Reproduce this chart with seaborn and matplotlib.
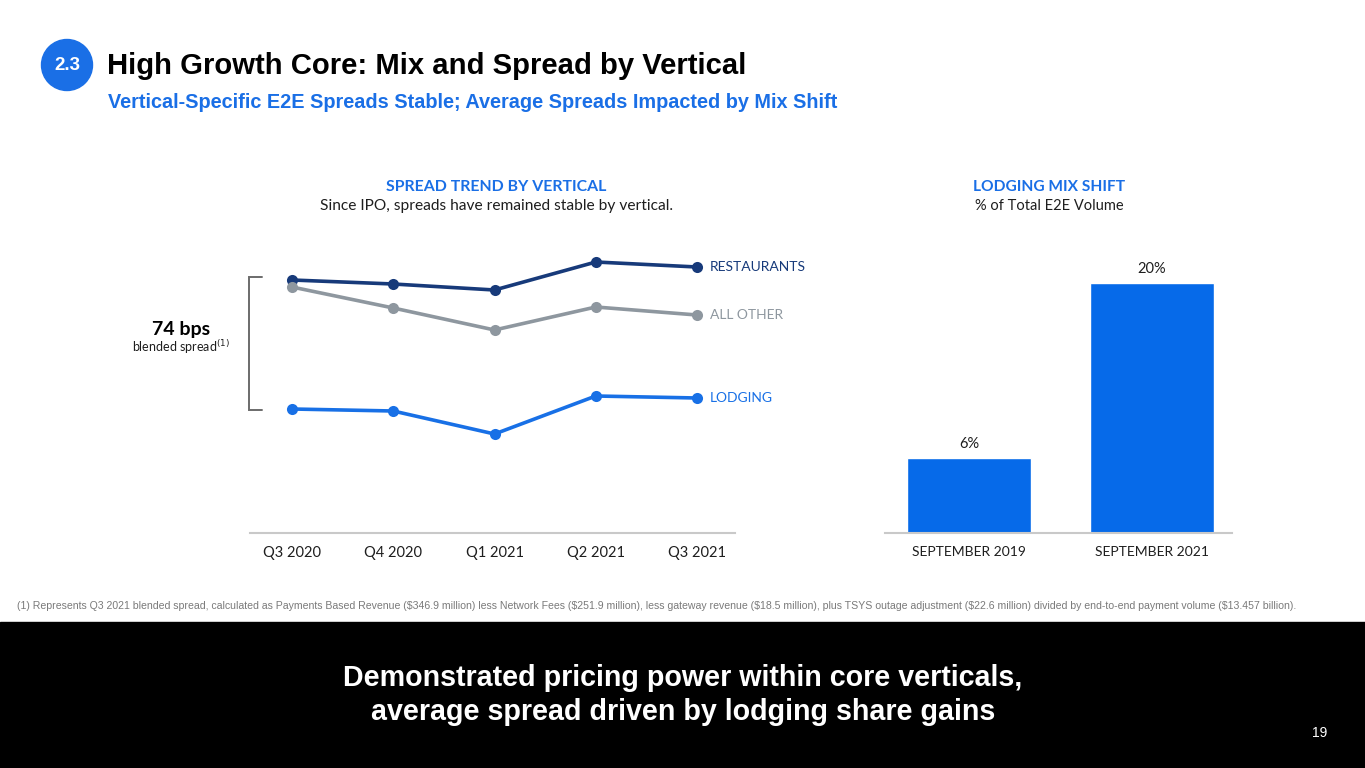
import matplotlib
matplotlib.use("Agg")
import matplotlib.pyplot as plt
import seaborn as sns
import pandas as pd
from matplotlib.patches import Circle, Rectangle

# ---------------- data ----------------
quarters = ["Q3 2020", "Q4 2020", "Q1 2021", "Q2 2021", "Q3 2021"]
# relative spread level (unitless)
restaurants = [253, 249, 243, 271, 266]
all_other = [246, 225, 203, 226, 218]
lodging = [124, 122, 99, 137, 135]
verticals = ["RESTAURANTS", "ALL OTHER", "LODGING"]

mix_periods = ["SEPTEMBER 2019", "SEPTEMBER 2021"]
mix_values = [6, 20]
mix_labels = ["6%", "20%"]

# ---------------- style ----------------
sns.set_theme(style="white")
plt.rcParams["font.family"] = ["Lato", "DejaVu Sans"]

NAVY = "#173a7a"
GRAY = "#8e979f"
BLUE = "#1870e6"
BAR = "#066ae9"
AXIS = "#c9c9c9"
TXT = "#1e1e1e"
ARIAL = ["Liberation Sans", "DejaVu Sans"]

W, H = 1365, 768
fig = plt.figure(figsize=(W / 100, H / 100), dpi=100)
fig.patch.set_facecolor("white")


def rect(l, t, r, b):
    return [l / W, 1 - b / H, (r - l) / W, (b - t) / H]


# overlay axes in pixel coordinates for decorations
ov = fig.add_axes([0, 0, 1, 1])
ov.set_xlim(0, W)
ov.set_ylim(H, 0)
ov.axis("off")
ov.set_zorder(-1)

# header
ov.add_patch(Circle((67, 65), 25.5, color="#1a6fe6"))
ov.text(67, 66, "2.3", color="white", ha="center", va="center", fontsize=13.5,
        fontweight="bold", family=ARIAL)
ov.text(107, 66, "High Growth Core: Mix and Spread by Vertical", color="black",
        ha="left", va="center", fontsize=21.1, fontweight="bold", family=ARIAL)
ov.text(108, 102, "Vertical-Specific E2E Spreads Stable; Average Spreads Impacted by Mix Shift",
        color="#1a6fe6", ha="left", va="center", fontsize=14.3, fontweight="bold",
        family=ARIAL)

# section titles
ov.text(496, 187, "SPREAD TREND BY VERTICAL", color="#1a6fe6", ha="center", va="center",
        fontsize=11.4, fontweight="bold")
ov.text(496, 206, "Since IPO, spreads have remained stable by vertical.", color=TXT,
        ha="center", va="center", fontsize=11.2)
ov.text(1049, 187, "LODGING MIX SHIFT", color="#1a6fe6", ha="center", va="center",
        fontsize=11.2, fontweight="bold")
ov.text(1049, 206, "% of Total E2E Volume", color=TXT, ha="center", va="center",
        fontsize=10.5)

# bracket and blended spread
ov.plot([262, 249, 249, 262], [277, 277, 410, 410], color="#6b6b6b", lw=1.4,
        solid_joinstyle="miter")
ov.text(181, 329, "74 bps", color="black", ha="center", va="center", fontsize=14,
        fontweight="bold")
ov.text(181, 347, "blended spread$^{(1)}$", color=TXT, ha="center", va="center",
        fontsize=9)

# footnote
ov.text(17, 606,
        "(1) Represents Q3 2021 blended spread, calculated as Payments Based Revenue (\\$346.9 million) "
        "less Network Fees (\\$251.9 million), less gateway revenue (\\$18.5 million), plus TSYS outage "
        "adjustment (\\$22.6 million) divided by end-to-end payment volume (\\$13.457 billion).",
        color="#7a7a7a", ha="left", va="center", fontsize=7.54, family=ARIAL)

# bottom band
ov.add_patch(Rectangle((0, 622), W, H - 622, color="black"))
ov.text(683, 678, "Demonstrated pricing power within core verticals,", color="white",
        ha="center", va="center", fontsize=20.6, fontweight="bold", family=ARIAL)
ov.text(683, 712, "average spread driven by lodging share gains", color="white",
        ha="center", va="center", fontsize=20.6, fontweight="bold", family=ARIAL)
ov.text(1320, 733, "19", color="white", ha="center", va="center", fontsize=10,
        family=ARIAL)

# ---------------- line chart ----------------
df = pd.DataFrame({
    "quarter": quarters * 3,
    "value": restaurants + all_other + lodging,
    "vertical": [verticals[0]] * 5 + [verticals[1]] * 5 + [verticals[2]] * 5,
})
pal = {verticals[0]: NAVY, verticals[1]: GRAY, verticals[2]: BLUE}

ax1 = fig.add_axes(rect(250, 230, 735, 533))
sns.lineplot(data=df, x="quarter", y="value", hue="vertical", palette=pal,
             marker="o", markersize=8, markeredgewidth=0, linewidth=2.6,
             sort=False, legend=False, ax=ax1)
ax1.set_xlim(-0.415, 4.375)
ax1.set_ylim(0, 303)
ax1.set_xlabel("")
ax1.set_ylabel("")
ax1.set_yticks([])
for s in ["top", "right", "left"]:
    ax1.spines[s].set_visible(False)
ax1.spines["bottom"].set_color(AXIS)
ax1.spines["bottom"].set_linewidth(1.5)
ax1.tick_params(axis="x", length=0, pad=9, labelsize=10.5, labelcolor=TXT)
ax1.patch.set_alpha(0)

ends = [restaurants[-1], all_other[-1], lodging[-1]]
for name, yv in zip(verticals, ends):
    ax1.annotate(name, xy=(4, yv), xytext=(9.5, 0), textcoords="offset points",
                 ha="left", va="center", color=pal[name], fontsize=10)

# ---------------- bar chart ----------------
bdf = pd.DataFrame({"period": mix_periods, "share": mix_values})
ax2 = fig.add_axes(rect(885, 230, 1232, 533))
sns.barplot(data=bdf, x="period", y="share", color=BAR, saturation=1,
            width=0.68, ax=ax2)
ax2.set_xlim(-0.459, 1.437)
ax2.set_ylim(0, 24.24)
ax2.set_xlabel("")
ax2.set_ylabel("")
ax2.set_yticks([])
for s in ["top", "right", "left"]:
    ax2.spines[s].set_visible(False)
ax2.spines["bottom"].set_color(AXIS)
ax2.spines["bottom"].set_linewidth(1.5)
ax2.tick_params(axis="x", length=0, pad=9, labelsize=10, labelcolor=TXT)
ax2.patch.set_alpha(0)
ax2.bar_label(ax2.containers[0], labels=mix_labels, padding=5, fontsize=10.5,
              color=TXT)

fig.savefig("out.png", dpi=100)
